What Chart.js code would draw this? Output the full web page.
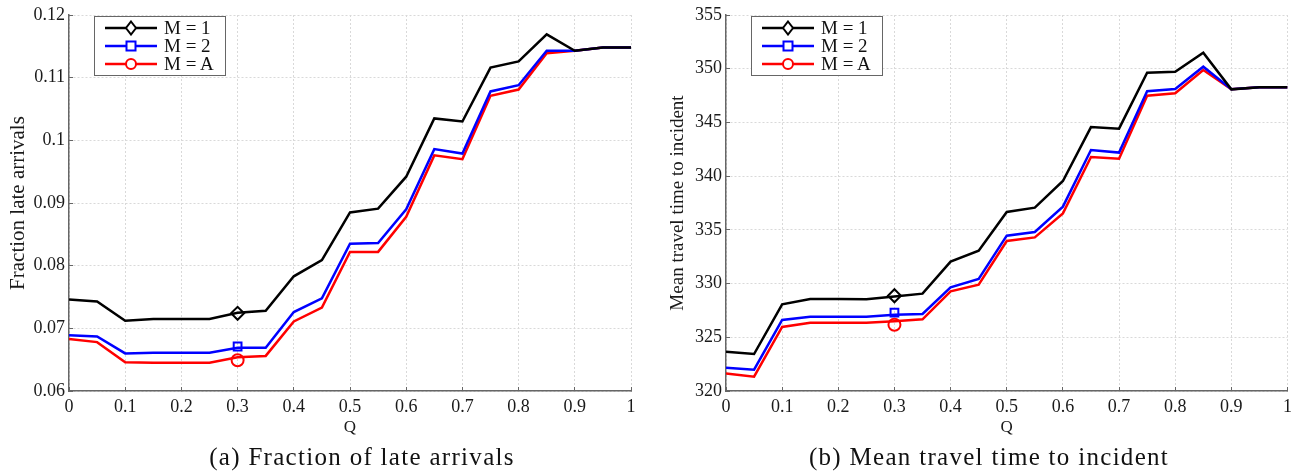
<!DOCTYPE html>
<html><head><meta charset="utf-8">
<script src="https://cdn.jsdelivr.net/npm/chart.js@4"></script>
<style>
html,body{margin:0;padding:0;background:#fff;}
body{width:1296px;height:472px;position:relative;overflow:hidden;font-family:'Liberation Serif',serif;}
.wrap{position:absolute;top:0;width:648px;height:472px;}
.legend{position:absolute;background:#fff;border:1px solid #666;box-sizing:border-box;padding:2px 0 0 10px;height:60px;width:132px;}
.row{display:flex;align-items:center;height:18px;font-size:19px;line-height:18px;color:#111;white-space:nowrap;}
.row canvas{margin-right:7px;display:block;}
.caption{position:absolute;font-size:25px;line-height:25px;letter-spacing:1.3px;color:#111;white-space:nowrap;transform:translateX(-50%);}
</style>
</head><body>
<div class="wrap" style="left:0"><canvas id="c1" width="648" height="472"></canvas></div>
<div class="wrap" style="left:648px"><canvas id="c2" width="648" height="472"></canvas></div>
<div class="legend" id="lg1" style="left:94px;top:16px"></div>
<div class="legend" id="lg2" style="left:751px;top:16px"></div>
<div class="caption" style="left:362px;top:444px">(a) Fraction of late arrivals</div>
<div class="caption" style="left:989px;top:444px">(b) Mean travel time to incident</div>
<script>
// ---- data ----
const Q = [0,0.05,0.1,0.15,0.2,0.25,0.3,0.35,0.4,0.45,0.5,0.55,0.6,0.65,0.7,0.75,0.8,0.85,0.9,0.95,1];
const seriesLabels = ['M = 1','M = 2','M = A'];
const fracM1 = [0.0746,0.0743,0.0712,0.0715,0.0715,0.0715,0.0725,0.0728,0.0783,0.0809,0.0885,0.0891,0.0942,0.1035,0.1030,0.1116,0.1126,0.1169,0.1143,0.1148,0.1148];
const fracM2 = [0.0689,0.0687,0.0660,0.0661,0.0661,0.0661,0.0669,0.0669,0.0726,0.0748,0.0835,0.0836,0.0890,0.0986,0.0979,0.1078,0.1088,0.1143,0.1143,0.1148,0.1148];
const fracMA = [0.0683,0.0678,0.0646,0.0645,0.0645,0.0645,0.0654,0.0656,0.0711,0.0733,0.0822,0.0822,0.0878,0.0976,0.0970,0.1071,0.1081,0.1139,0.1143,0.1148,0.1148];
const timeM1 = [323.66,323.44,328.07,328.56,328.56,328.53,328.80,329.06,332.04,333.06,336.66,337.07,339.55,344.57,344.42,349.63,349.72,351.49,348.08,348.27,348.27];
const timeM2 = [322.17,321.98,326.61,326.92,326.92,326.92,327.10,327.17,329.65,330.43,334.46,334.80,337.16,342.43,342.19,347.90,348.11,350.19,348.08,348.27,348.27];
const timeMA = [321.64,321.33,325.96,326.36,326.36,326.36,326.49,326.67,329.28,329.90,333.96,334.30,336.53,341.78,341.62,347.49,347.71,349.88,348.08,348.27,348.27];
const markerQ = 0.3;
const fracMarkers = [0.0724,0.0671,0.0649];
const timeMarkers = [328.87,327.29,326.17];
const xTicks = [0,0.1,0.2,0.3,0.4,0.5,0.6,0.7,0.8,0.9,1];
const xTickLabels = ['0','0.1','0.2','0.3','0.4','0.5','0.6','0.7','0.8','0.9','1'];
const fracTicks = [0.06,0.07,0.08,0.09,0.1,0.11,0.12];
const fracTickLabels = ['0.06','0.07','0.08','0.09','0.1','0.11','0.12'];
const timeTicks = [320,325,330,335,340,345,350,355];
const timeTickLabels = ['320','325','330','335','340','345','350','355'];

// ---- styles ----
const colors = ['#000000','#0000ff','#ff0000'];
const markerStyles = ['rectRot','rect','circle'];
const markerRadius = [6.5,5.5,6];
const FONT = "'Liberation Serif', serif";
const TXT = '#1a1a1a';

function zeroPad(s){ s.paddingLeft = 0; s.paddingRight = 0; s.paddingTop = 0; s.paddingBottom = 0; }

function makeChart(id, series, markers, yTicks, yTickLabels, yTitle, cfg){
  const datasets = [];
  series.forEach((s,i)=>{
    datasets.push({label:seriesLabels[i], data:Q.map((q,j)=>({x:q,y:s[j]})),
      borderColor:colors[i], borderWidth:2.5, pointRadius:0, fill:false, tension:0});
  });
  markers.forEach((m,i)=>{
    datasets.push({label:seriesLabels[i]+' marker', data:[{x:markerQ,y:m}], showLine:false,
      pointStyle:markerStyles[i], pointRadius:markerRadius[i], pointBorderColor:colors[i],
      pointBackgroundColor:'rgba(0,0,0,0)', pointBorderWidth:2});
  });
  return new Chart(document.getElementById(id), {
    type:'line',
    data:{datasets},
    options:{
      responsive:false, animation:false, devicePixelRatio:1,
      layout:{padding:{top:15,right:cfg.padRight,left:0,bottom:0}},
      plugins:{legend:{display:false}, tooltip:{enabled:false}},
      scales:{
        x:{type:'linear', min:0, max:1,
          afterBuildTicks:s=>{s.ticks = xTicks.map(v=>({value:v}));},
          afterFit:s=>{s.height = 472-391; zeroPad(s);},
          ticks:{callback:v=>xTickLabels[xTicks.indexOf(v)], font:{family:FONT,size:18}, color:TXT, padding:9, maxRotation:0, autoSkip:false},
          grid:{color:'#d9d9d9', lineWidth:1, drawTicks:true, tickLength:-4, tickColor:'#666', tickWidth:1},
          border:{display:true, color:'#666', width:1.5, dash:[2,2]},
          title:{display:true, text:'Q', font:{family:FONT,size:17}, color:TXT, padding:{top:0,bottom:34}}
        },
        y:{type:'linear', min:yTicks[0], max:yTicks[yTicks.length-1],
          afterBuildTicks:s=>{s.ticks = yTicks.map(v=>({value:v}));},
          afterFit:s=>{s.width = cfg.axisLeft; zeroPad(s);},
          ticks:{callback:v=>yTickLabels[yTicks.indexOf(v)], font:{family:FONT,size:18}, color:TXT, padding:8, autoSkip:false},
          grid:{color:'#d9d9d9', lineWidth:1, drawTicks:true, tickLength:-4, tickColor:'#666', tickWidth:1},
          border:{display:true, color:'#666', width:1.5, dash:[2,2]},
          title:{display:true, text:yTitle, font:{family:FONT,size:cfg.titleSize}, color:TXT, padding:{top:cfg.titlePad,bottom:0}}
        }
      }
    }
  });
}

makeChart('c1',[fracM1,fracM2,fracMA],fracMarkers,fracTicks,fracTickLabels,'Fraction late arrivals',{axisLeft:69,padRight:17,titlePad:5.5,titleSize:21});
makeChart('c2',[timeM1,timeM2,timeMA],timeMarkers,timeTicks,timeTickLabels,'Mean travel time to incident',{axisLeft:78,padRight:5,titlePad:18.5,titleSize:19});

function buildLegend(id){
  const lg = document.getElementById(id);
  seriesLabels.forEach((lab,i)=>{
    const row = document.createElement('div'); row.className='row';
    const cv = document.createElement('canvas'); cv.width=52; cv.height=16;
    const ctx = cv.getContext('2d');
    ctx.strokeStyle = colors[i]; ctx.lineWidth = 2.5;
    ctx.beginPath(); ctx.moveTo(0,8); ctx.lineTo(52,8); ctx.stroke();
    ctx.lineWidth = 2; ctx.fillStyle='#fff';
    ctx.beginPath();
    if(i===0){ ctx.moveTo(26,1.5); ctx.lineTo(31,8); ctx.lineTo(26,14.5); ctx.lineTo(21,8); ctx.closePath(); }
    else if(i===1){ ctx.rect(21.5,3.5,9,9); }
    else { ctx.arc(26,8,5,0,Math.PI*2); }
    ctx.fill(); ctx.stroke();
    const sp = document.createElement('span'); sp.textContent = lab;
    row.appendChild(cv); row.appendChild(sp); lg.appendChild(row);
  });
}
buildLegend('lg1'); buildLegend('lg2');
</script>
</body></html>
